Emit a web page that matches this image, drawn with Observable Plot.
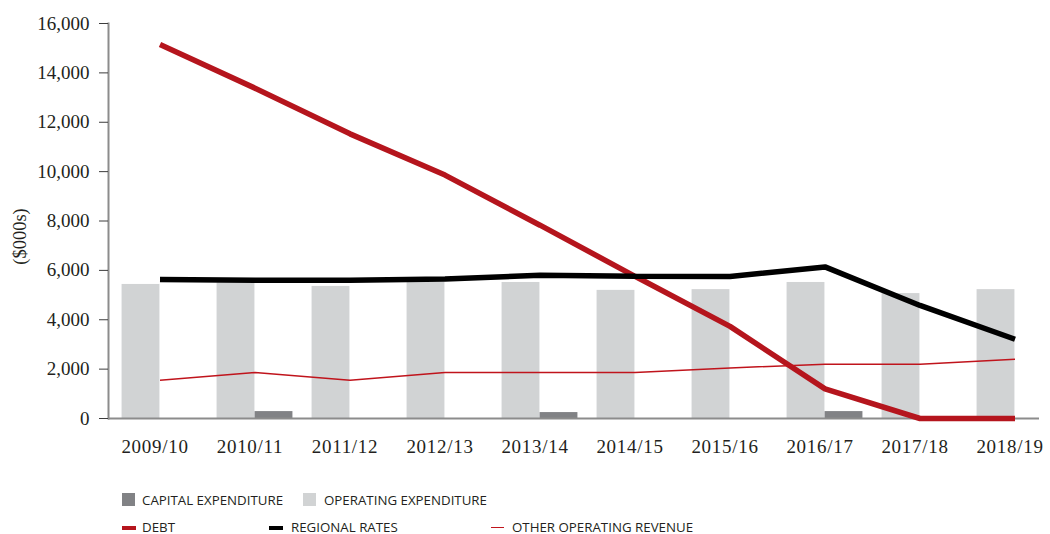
<!DOCTYPE html>
<html><head><meta charset="utf-8">
<script src="https://cdn.jsdelivr.net/npm/d3@7"></script>
<script src="https://cdn.jsdelivr.net/npm/@observablehq/plot@0.6"></script>
<style>
html,body{margin:0;padding:0;background:#fff;}
#wrap{position:relative;width:1050px;height:534px;background:#fff;}
#chart svg{display:block;}
[aria-label="x-axis tick label"]{letter-spacing:0.7px;}
.lg{position:absolute;font-family:"Open Sans",sans-serif;font-size:13.3px;line-height:11px;color:#231f20;white-space:nowrap;}
.sw{position:absolute;}
</style></head><body>
<div id="wrap"><div id="chart"></div><div id="legend"></div></div>
<script>
// ---- data ----
const years = ["2009/10","2010/11","2011/12","2012/13","2013/14","2014/15","2015/16","2016/17","2017/18","2018/19"];
const capitalExpenditure   = [0, 280, 0, 0, 240, 0, 0, 280, 0, 0];
const operatingExpenditure = [5430, 5500, 5350, 5520, 5510, 5190, 5220, 5510, 5060, 5220];
const debt                 = [15150, 13380, 11530, 9860, 7830, 5760, 3730, 1200, 0, 0];
const regionalRates        = [5630, 5600, 5600, 5650, 5800, 5760, 5750, 6140, 4580, 3210];
const otherOperatingRevenue= [1550, 1860, 1550, 1860, 1860, 1860, 2050, 2200, 2200, 2400];
const yTicks = [0, 2000, 4000, 6000, 8000, 10000, 12000, 14000, 16000];
const yLabel = "($000s)";
const legendLabels = ["CAPITAL EXPENDITURE","OPERATING EXPENDITURE","DEBT","REGIONAL RATES","OTHER OPERATING REVENUE"];

const rows = years.map((year, i) => ({
  year,
  capital: capitalExpenditure[i],
  operating: operatingExpenditure[i],
  debt: debt[i],
  rates: regionalRates[i],
  other: otherOperatingRevenue[i]
}));

const C = {capital:"#818285", operating:"#d1d3d4", debt:"#b5151d", rates:"#000000", other:"#c0141c", axis:"#8c8c8c"};
const step = 95.15, c0 = 158.5, barW = 38;
const half = step / 2;

const chart = Plot.plot({
  width: 1050, height: 470,
  marginTop: 23, marginBottom: 52, marginLeft: 108, marginRight: 11,
  style: {fontFamily: "'Liberation Serif', 'Times New Roman', serif", fontSize: "19px", color: "#231f20", background: "#fff"},
  x: {type: "band", domain: years, range: [c0 - half, c0 + 9 * step + half], padding: 0},
  y: {domain: [0, 16000]},
  marks: [
    Plot.barY(rows, {x: "year", y: "operating", fill: C.operating, insetLeft: half - barW, insetRight: half}),
    Plot.barY(rows, {x: "year", y: "capital", fill: C.capital, insetLeft: half, insetRight: half - barW}),
    Plot.frame({anchor: "left", stroke: C.axis, strokeWidth: 2}),
    Plot.ruleY([0], {stroke: C.axis, strokeWidth: 2}),
    Plot.axisY({ticks: yTicks, tickSize: 9, tickPadding: 10, tickFormat: d3.format(","), fontSize: 19, label: null, stroke: "#3c3c3c"}),
    Plot.axisX({tickSize: 0, tickPadding: 21, fontSize: 19, dx: -5, label: null}),
    Plot.text([yLabel], {frameAnchor: "left", textAnchor: "middle", lineAnchor: "middle", dx: -88.5, dy: 15.5, rotate: -90, fontSize: 18.5}),
    Plot.lineY(rows, {x: "year", y: "debt", stroke: C.debt, strokeWidth: 5.5, strokeLinecap: "butt", strokeLinejoin: "miter"}),
    Plot.lineY(rows, {x: "year", y: "rates", stroke: C.rates, strokeWidth: 5.5, strokeLinecap: "butt", strokeLinejoin: "miter"}),
    Plot.lineY(rows, {x: "year", y: "other", stroke: C.other, strokeWidth: 1.5, strokeLinecap: "butt"})
  ]
});
document.getElementById("chart").appendChild(chart);

// ---- legend (HTML, below the SVG) ----
const layout = [
  {sw: {left:122, top:492.5, w:13, h:13, bg:C.capital}, tx: {left:142, top:495}},
  {sw: {left:303, top:492.5, w:12.5, h:13, bg:C.operating}, tx: {left:324, top:495}},
  {sw: {left:122, top:525.5, w:13.5, h:4, bg:C.debt}, tx: {left:142, top:522}},
  {sw: {left:269, top:525.5, w:13.5, h:4, bg:C.rates}, tx: {left:291, top:522}},
  {sw: {left:491, top:526.5, w:12.5, h:1.5, bg:C.other}, tx: {left:512, top:522}}
];
const lg = document.getElementById("legend");
legendLabels.forEach((label, i) => {
  const L = layout[i];
  const s = document.createElement("div");
  s.className = "sw";
  Object.assign(s.style, {left: L.sw.left + "px", top: L.sw.top + "px", width: L.sw.w + "px", height: L.sw.h + "px", background: L.sw.bg});
  lg.appendChild(s);
  const t = document.createElement("div");
  t.className = "lg";
  t.textContent = label;
  Object.assign(t.style, {left: L.tx.left + "px", top: L.tx.top + "px"});
  lg.appendChild(t);
});
</script>
</body></html>
